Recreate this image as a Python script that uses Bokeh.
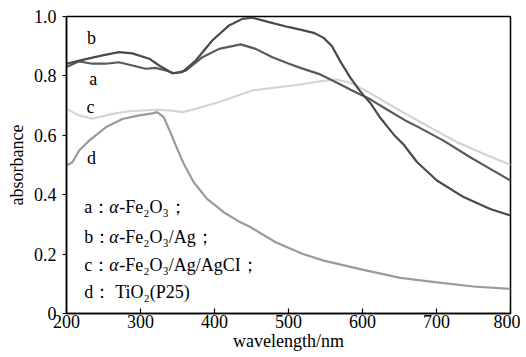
from bokeh.plotting import figure
from bokeh.embed import file_html
from bokeh.resources import INLINE
from bokeh.models import FixedTicker
from bokeh.core.properties import value

# ---- data ----
wl_a = [200, 217, 235, 253, 271, 289, 307, 320.6, 334, 345.4, 361.1, 383.7, 406.2, 435.4,
        455.6, 478.2, 500.7, 516, 543, 565.6, 588, 610.5, 633, 660, 673.6, 709.5, 745.6,
        772.6, 800]
abs_a = [0.830, 0.849, 0.841, 0.841, 0.846, 0.835, 0.824, 0.827, 0.818, 0.809, 0.818, 0.863,
         0.891, 0.906, 0.891, 0.863, 0.841, 0.827, 0.805, 0.777, 0.748, 0.721, 0.687, 0.647,
         0.630, 0.582, 0.526, 0.487, 0.448]

wl_b = [200, 221.6, 248.6, 271, 289, 311.7, 325.2, 343, 356.6, 374.6, 397, 419.7, 437.7,
        451, 473.7, 500.7, 516, 534, 547.5, 558.8, 570, 583.5, 597, 610.5, 624, 642, 655.5,
        673.6, 700.6, 736.6, 772.6, 800]
abs_b = [0.841, 0.854, 0.869, 0.880, 0.876, 0.858, 0.835, 0.809, 0.813, 0.852, 0.919, 0.970,
         0.992, 0.996, 0.981, 0.964, 0.956, 0.945, 0.928, 0.900, 0.849, 0.794, 0.748, 0.709,
         0.659, 0.603, 0.569, 0.510, 0.448, 0.392, 0.352, 0.330]

wl_c = [200, 217, 235, 262, 284.7, 320.6, 338.7, 356.6, 374.6, 406.2, 451.2, 487.2, 516,
        543, 565.6, 583.5, 606, 633, 660, 682.6, 727.6, 763.5, 800]
abs_c = [0.689, 0.667, 0.656, 0.672, 0.681, 0.686, 0.684, 0.678, 0.689, 0.712, 0.751, 0.762,
         0.771, 0.782, 0.788, 0.777, 0.748, 0.709, 0.670, 0.639, 0.577, 0.538, 0.500]

wl_d = [200, 208, 217, 230.6, 253, 275.6, 298.2, 316.1, 322.4, 331.4, 340.4, 349.5, 358.4,
        371.9, 390, 412.4, 435, 448.5, 482.6, 518.7, 547.5, 601.5, 651, 700.6, 750, 800]
abs_d = [0.498, 0.509, 0.549, 0.582, 0.627, 0.655, 0.667, 0.674, 0.678, 0.661, 0.610, 0.555,
         0.504, 0.442, 0.386, 0.341, 0.307, 0.291, 0.240, 0.201, 0.178, 0.147, 0.120, 0.105,
         0.091, 0.083]

x_ticks = [200, 300, 400, 500, 600, 700, 800]
y_ticks = [0, 0.2, 0.4, 0.6, 0.8, 1.0]
y_tick_labels = {0: "0", 0.2: "0.2", 0.4: "0.4", 0.6: "0.6", 0.8: "0.8", 1.0: "1.0"}

curve_letters = ["b", "a", "c", "d"]
letter_x = [233.8, 236.0, 232.4, 233.8]
letter_y = [0.926, 0.788, 0.694, 0.525]

legend_prefix = ["a：", "b：", "c：", "d："]
legend_greek = ["α", "α", "α", ""]
legend_rest = ["-Fe₂O₃；", "-Fe₂O₃/Ag；", "-Fe₂O₃/Ag/AgCI；", "TiO₂(P25)"]
legend_x = [223.9, 223.9, 223.9, 223.9]
legend_y = [0.358, 0.257, 0.162, 0.072]

FONT = "Liberation Serif"
FS = "18px"

p = figure(width=520, height=355, x_range=(200, 800), y_range=(0, 1.0),
           output_backend="svg", toolbar_location=None,
           min_border_left=66, min_border_right=10, min_border_top=16, min_border_bottom=42)

p.grid.visible = False
p.outline_line_color = "black"
p.outline_line_width = 1.5
p.background_fill_color = "white"
p.border_fill_color = "white"

p.line(wl_c, abs_c, line_color="#d4d4d4", line_width=2.2)
p.line(wl_d, abs_d, line_color="#9a9a9a", line_width=2.2)
p.line(wl_a, abs_a, line_color="#5a5a5a", line_width=2.2)
p.line(wl_b, abs_b, line_color="#4a4a4a", line_width=2.2)

p.text(x=letter_x, y=letter_y, text=curve_letters, text_font=value(FONT),
       text_font_size=FS, text_align="center", text_baseline="middle", text_color="black")

p.text(x=legend_x, y=legend_y, text=legend_prefix, text_font=value(FONT),
       text_font_size=FS, text_align="left", text_baseline="middle", text_color="black")
p.text(x=legend_x, y=legend_y, text=legend_greek, x_offset=25, text_font=value(FONT),
       text_font_size=FS, text_font_style="italic", text_align="left",
       text_baseline="middle", text_color="black")
rest_off = [35, 35, 35, 31]
p.text(x=legend_x, y=legend_y, text=legend_rest, x_offset=rest_off, text_font=value(FONT),
       text_font_size=FS, text_align="left", text_baseline="middle", text_color="black")

xa = p.xaxis[0]
xa.ticker = FixedTicker(ticks=x_ticks)
xa.axis_label = "wavelength/nm"
xa.major_tick_in = 5
xa.major_tick_out = 0
xa.minor_tick_line_color = None
xa.major_label_standoff = 1
xa.axis_label_standoff = 0

ya = p.yaxis[0]
ya.ticker = FixedTicker(ticks=y_ticks)
ya.major_label_overrides = y_tick_labels
ya.axis_label = "absorbance"
ya.major_tick_in = 0
ya.major_tick_out = 4
ya.minor_tick_line_color = None
ya.major_label_standoff = 6
ya.axis_label_standoff = 4

for ax in (xa, ya):
    ax.axis_line_color = "black"
    ax.axis_line_width = 1.5
    ax.major_tick_line_color = "black"
    ax.major_tick_line_width = 1.2
    ax.major_label_text_font = FONT
    ax.major_label_text_font_size = FS
    ax.major_label_text_color = "black"
    ax.axis_label_text_font = FONT
    ax.axis_label_text_font_size = FS
    ax.axis_label_text_font_style = "normal"
    ax.axis_label_text_color = "black"

open("out.html", "w").write(file_html(p, INLINE))
